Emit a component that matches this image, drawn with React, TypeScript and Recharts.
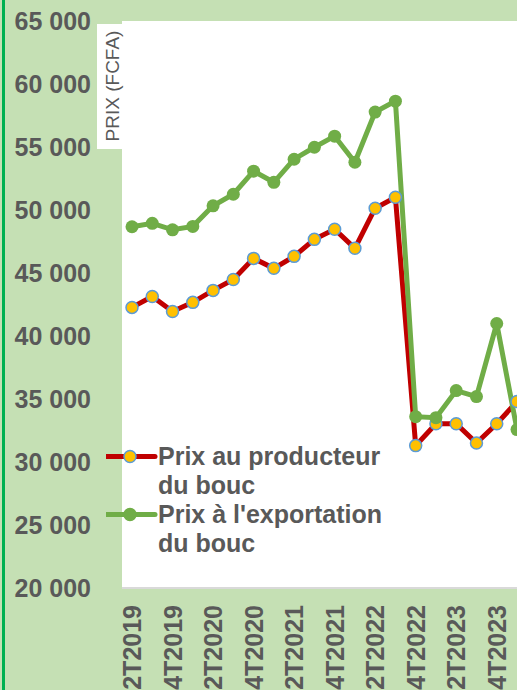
import { LineChart, Line, XAxis, YAxis, CartesianGrid, Legend } from 'recharts';

const quarters = [
  '2T2019', '3T2019', '4T2019', '1T2020', '2T2020', '3T2020', '4T2020', '1T2021', '2T2021', '3T2021',
  '4T2021', '1T2022', '2T2022', '3T2022', '4T2022', '1T2023', '2T2023', '3T2023', '4T2023', '1T2024',
];
const producerPrice = [
  42270, 43140, 41950, 42670, 43620, 44490, 46160, 45370, 46320, 47670,
  48470, 46960, 50140, 51010, 31300, 33040, 33040, 31500, 33040, 34800,
];
const exportPrice = [
  48670, 48940, 48430, 48700, 50330, 51250, 53080, 52200, 54030, 54980,
  55860, 53790, 57770, 58640, 33600, 33520, 35670, 35190, 40990, 32570,
];
const yTicks = [20000, 25000, 30000, 35000, 40000, 45000, 50000, 55000, 60000, 65000];

const data = quarters.map((q, i) => ({
  quarter: q,
  producteur: producerPrice[i],
  exportation: exportPrice[i],
}));

const FONT = '"Liberation Sans", Arial, sans-serif';
const TEXT = '#595959';

const formatThousands = (v: number) => String(v).replace(/\B(?=(\d{3})+(?!\d))/g, ' ');

const markers: Record<string, { line: string; fill: string; stroke: string }> = {
  producteur: { line: '#c00000', fill: '#ffc000', stroke: '#5b9bd5' },
  exportation: { line: '#70ad47', fill: '#70ad47', stroke: '#70ad47' },
};

function QuarterTick({ x, y, payload }: any) {
  return (
    <text
      x={x}
      y={y}
      transform={`rotate(-90, ${x}, ${y})`}
      textAnchor="end"
      dy="0.36em"
      fill={TEXT}
      fontSize={25}
      fontWeight="bold"
      fontFamily={FONT}
    >
      {payload.value}
    </text>
  );
}

function AxisTitle({ viewBox }: any) {
  const right = viewBox.x + viewBox.width;
  const top = viewBox.y;
  return (
    <g>
      <rect x={right - 25} y={top + 3} width={25} height={125} fill="#fff" />
      <text
        x={right - 10}
        y={top + 65}
        transform={`rotate(-90, ${right - 10}, ${top + 65})`}
        textAnchor="middle"
        dy="0.36em"
        fill={TEXT}
        fontSize={19}
        fontFamily={FONT}
      >
        PRIX (FCFA)
      </text>
    </g>
  );
}

function LegendBox({ payload }: any) {
  return (
    <div style={{ fontFamily: FONT }}>
      {(payload || []).map((entry: any) => {
        const m = markers[entry.dataKey];
        return (
          <div key={entry.dataKey} style={{ display: 'flex', alignItems: 'flex-start' }}>
            <svg width={52} height={29} style={{ flex: 'none' }}>
              <line x1={0} y1={14.5} x2={49} y2={14.5} stroke={m.line} strokeWidth={5} strokeLinecap="round" />
              <circle cx={24} cy={14.5} r={6} fill={m.fill} stroke={m.stroke} strokeWidth={1.5} />
            </svg>
            <div style={{ width: 250, fontSize: 25, fontWeight: 'bold', lineHeight: '29px', color: TEXT }}>
              {entry.value}
            </div>
          </div>
        );
      })}
    </div>
  );
}

export default function App() {
  return (
    <div
      style={{
        position: 'absolute',
        left: 0,
        top: 0,
        width: 517,
        height: 690,
        overflow: 'hidden',
        background: '#c5e0b4',
        fontFamily: FONT,
      }}
    >
      <LineChart width={540} height={690} data={data} margin={{ top: 21, right: 13, left: 0, bottom: 0 }}>
        <CartesianGrid horizontal={false} vertical={false} fill="#ffffff" />
        <XAxis
          dataKey="quarter"
          interval={1}
          height={102}
          padding={{ left: 10, right: 10 }}
          tickSize={0}
          tickMargin={17}
          tickLine={false}
          axisLine={{ stroke: '#d9d9d9', strokeWidth: 2 }}
          tick={<QuarterTick />}
        />
        <YAxis
          domain={[20000, 65000]}
          ticks={yTicks}
          interval={0}
          width={122}
          tickSize={0}
          tickMargin={31}
          tickLine={false}
          axisLine={false}
          tickFormatter={formatThousands}
          tick={{ fill: TEXT, fontSize: 25, fontWeight: 'bold', fontFamily: FONT }}
          label={<AxisTitle />}
        />
        <Legend
          layout="vertical"
          align="center"
          verticalAlign="middle"
          content={<LegendBox />}
          wrapperStyle={{ left: 106, top: 442, width: 320, bottom: 'auto', right: 'auto' }}
        />
        <Line
          type="linear"
          dataKey="producteur"
          name="Prix au producteur du bouc"
          stroke="#c00000"
          strokeWidth={5}
          dot={{ r: 6, fill: '#ffc000', stroke: '#5b9bd5', strokeWidth: 1.5 }}
          activeDot={false}
          isAnimationActive={false}
        />
        <Line
          type="linear"
          dataKey="exportation"
          name="Prix à l'exportation du bouc"
          stroke="#70ad47"
          strokeWidth={5}
          dot={{ r: 6.5, fill: '#70ad47', stroke: '#70ad47', strokeWidth: 0 }}
          activeDot={false}
          isAnimationActive={false}
        />
      </LineChart>
      <div style={{ position: 'absolute', left: 2, top: 0, width: 3, height: 690, background: '#00b050' }} />
    </div>
  );
}
